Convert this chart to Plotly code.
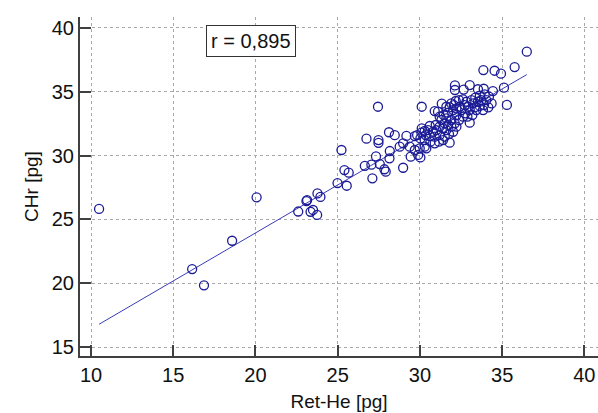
import plotly.graph_objects as go
import numpy as np

# Ret-He (x) and CHr (y), both in picograms
ret_he = [
    10.49, 16.15, 16.87, 18.58, 20.07, 22.60, 23.10, 23.35, 23.50, 23.75,
    23.77, 23.95, 23.14, 24.99, 25.55, 25.41, 25.67, 25.23, 26.75, 27.48,
    27.48, 28.12, 28.47, 29.18, 28.98, 27.11, 26.65, 27.05, 27.33, 27.56,
    27.84, 27.92, 28.17, 28.15, 27.45, 30.11, 32.13, 32.13, 32.66, 33.03,
    33.53, 33.88, 34.44, 33.86, 34.54, 34.93, 35.11, 35.29, 35.76, 36.50,
    31.33, 31.61, 31.91, 32.18, 32.38, 32.62, 32.83, 33.13, 33.37, 33.64,
    33.94, 34.20, 34.36, 34.16, 33.84, 33.64, 33.33, 33.03, 32.76, 32.52,
    32.22, 32.02, 31.71, 31.45, 31.20, 30.90, 31.10, 31.61, 31.91, 32.12,
    32.38, 32.62, 32.89, 33.19, 33.43, 30.11, 30.29, 30.60, 30.96, 31.20,
    31.41, 31.61, 31.91, 32.22, 31.77, 31.51, 31.20, 30.90, 30.60, 30.35,
    30.09, 29.83, 29.69, 30.03, 30.29, 30.64, 30.90, 31.16, 31.41, 31.81,
    33.03, 29.38, 29.69, 29.99, 30.29, 29.89, 30.03, 30.39, 29.44, 28.77,
    28.98, 32.42, 32.72, 32.93, 33.23, 33.53, 33.74, 34.04, 33.90, 32.22,
    32.06, 31.81, 31.31, 31.51, 31.71, 32.02, 30.80, 30.49, 31.00,
]
chr_vals = [
    25.82, 21.11, 19.84, 23.33, 26.73, 25.62, 26.44, 25.60, 25.74, 25.35,
    27.04, 26.76, 26.52, 27.85, 27.64, 28.87, 28.66, 30.44, 31.33, 31.22,
    31.00, 31.83, 31.60, 31.54, 29.05, 28.22, 29.20, 29.29, 29.94, 29.34,
    28.93, 28.74, 30.36, 29.79, 33.83, 33.83, 35.50, 35.14, 35.17, 35.53,
    35.20, 35.24, 35.06, 36.70, 36.65, 36.42, 35.32, 33.97, 36.94, 38.14,
    34.07, 33.83, 34.09, 34.28, 34.35, 34.41, 34.22, 34.35, 34.54, 34.69,
    34.80, 34.62, 34.09, 33.78, 33.57, 33.89, 33.78, 33.57, 33.31, 33.57,
    33.70, 33.57, 33.36, 33.18, 33.05, 33.49, 33.44, 32.92, 32.79, 32.53,
    32.79, 33.05, 33.05, 33.18, 33.57, 32.14, 31.93, 32.32, 32.40, 32.27,
    32.14, 32.00, 32.27, 32.27, 31.69, 31.48, 31.61, 31.48, 31.53, 31.61,
    31.80, 31.61, 31.53, 31.35, 31.22, 31.09, 30.96, 31.09, 31.22, 31.01,
    32.58, 30.70, 30.44, 30.57, 30.70, 30.05, 29.86, 30.57, 29.92, 30.70,
    30.96, 33.83, 33.96, 33.83, 34.09, 34.22, 34.35, 34.35, 33.96, 33.18,
    33.96, 33.78, 32.79, 32.53, 32.40, 31.87, 31.87, 32.00, 32.00,
]

# Fitted regression line: CHr = intercept + slope * Ret-He
fit_intercept = 8.90
fit_slope = 0.752
r_label = "r = 0,895"

x_ticks = [10, 15, 20, 25, 30, 35, 40]
y_ticks = [15, 20, 25, 30, 35, 40]

x_fit = np.array([min(ret_he), max(ret_he)])
y_fit = fit_intercept + fit_slope * x_fit

navy = "#1b1b96"
axis_col = "#404040"
grid_col = "#a8a8a8"
font_family = "Liberation Sans, Arial, sans-serif"

fig = go.Figure()
fig.add_trace(go.Scatter(
    x=x_fit, y=y_fit, mode="lines",
    line=dict(color="#3a3ab8", width=1),
    hoverinfo="skip", showlegend=False,
))
fig.add_trace(go.Scatter(
    x=ret_he, y=chr_vals, mode="markers",
    marker=dict(symbol="circle-open", size=9, color=navy,
                line=dict(color=navy, width=1.3)),
    showlegend=False,
))

fig.add_annotation(
    x=19.72, y=38.98, xref="x", yref="y", text=r_label, showarrow=False,
    font=dict(family=font_family, size=20, color="#111111"),
    bordercolor="#333333", borderwidth=1, borderpad=4, bgcolor="white",
)

axis_common = dict(
    showline=True, linecolor=axis_col, linewidth=2,
    ticks="inside", ticklen=11, tickwidth=2, tickcolor=axis_col,
    showgrid=True, gridcolor=grid_col, gridwidth=1, griddash="dot",
    zeroline=False, mirror=False,
    tickfont=dict(family=font_family, size=20, color="#111111"),
)

fig.update_xaxes(
    range=[9.33, 40.83], tickvals=x_ticks,
    title=dict(text="Ret-He [pg]", standoff=10,
               font=dict(family=font_family, size=19, color="#111111")),
    **axis_common,
)
fig.update_yaxes(
    range=[14.3, 40.86], tickvals=y_ticks,
    title=dict(text="CHr [pg]", standoff=8,
               font=dict(family=font_family, size=19, color="#111111")),
    **axis_common,
)

fig.update_layout(
    width=598, height=413,
    margin=dict(l=80, r=0, t=17, b=57),
    plot_bgcolor="white", paper_bgcolor="white",
)

fig.write_html("out.html")
